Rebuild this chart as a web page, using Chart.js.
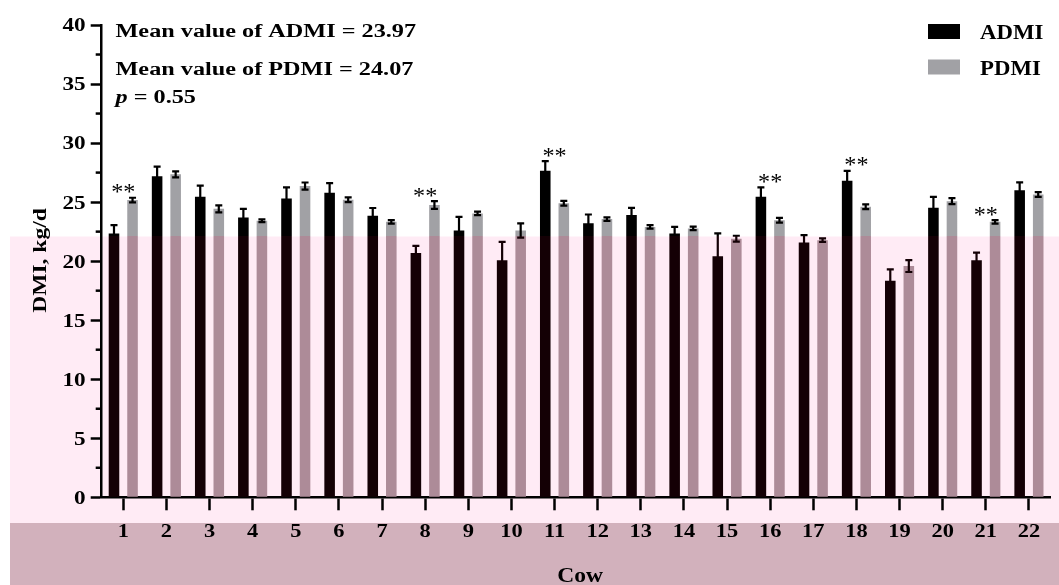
<!DOCTYPE html>
<html>
<head>
<meta charset="utf-8">
<script src="https://cdn.jsdelivr.net/npm/chart.js@4.4.1/dist/chart.umd.min.js"></script>
<style>
  html, body { margin: 0; padding: 0; background: #ffffff; }
  #wrap { width: 1059px; height: 585px; position: relative; }
</style>
</head>
<body>
<div id="wrap"><canvas id="c" width="1059" height="585"></canvas></div>
<script>
// Daily dry matter intake per cow (kg/d): actual (ADMI) vs predicted (PDMI), mean ± SE
const cows = ['1','2','3','4','5','6','7','8','9','10','11','12','13','14','15','16','17','18','19','20','21','22'];
const admi    = [22.35, 27.2, 25.45, 23.7, 25.3, 25.8, 23.84, 20.7, 22.6, 20.08, 27.65, 23.2, 23.9, 22.35, 20.42, 25.45, 21.58, 26.8, 18.33, 24.52, 20.08, 26.0];
const admiErr = [0.7, 0.8, 0.95, 0.73, 0.95, 0.8, 0.66, 0.6, 1.15, 1.56, 0.82, 0.75, 0.62, 0.55, 1.93, 0.8, 0.62, 0.85, 0.97, 0.93, 0.65, 0.67];
const pdmi    = [25.17, 27.35, 24.43, 23.42, 26.36, 25.2, 23.33, 24.75, 24.04, 22.6, 24.9, 23.56, 22.9, 22.77, 21.9, 23.47, 21.78, 24.6, 19.58, 25.08, 23.33, 25.65];
const pdmiErr = [0.2, 0.25, 0.3, 0.12, 0.3, 0.2, 0.15, 0.33, 0.15, 0.6, 0.2, 0.15, 0.15, 0.15, 0.25, 0.2, 0.15, 0.2, 0.5, 0.25, 0.15, 0.2];
const significant = ['1', '8', '11', '16', '18', '21'];
const yTicks = [0, 5, 10, 15, 20, 25, 30, 35, 40];
const seriesNames = ['ADMI', 'PDMI'];
const notes = ['Mean value of ADMI = 23.97', 'Mean value of PDMI = 24.07', '= 0.55'];
const axisTitles = { x: 'Cow', y: 'DMI, kg/d' };

const FONT = '"Liberation Serif", "Times New Roman", serif';
const PINK_TOP = 236.5, BAND_TOP = 523;

// Draw text with a horizontal stretch factor (wide serif look)
function stretchText(ctx, s, x, y, size, sx, align, weight) {
  ctx.save();
  ctx.font = (weight || 'bold') + ' ' + size + 'px ' + FONT;
  ctx.textAlign = align || 'left';
  ctx.textBaseline = 'alphabetic';
  ctx.fillStyle = '#000';
  ctx.translate(x, y);
  ctx.scale(sx, 1);
  ctx.fillText(s, 0, 0);
  ctx.restore();
}

// Two-tone vertical fill: plain colour above the tinted panel, tinted colour inside it
function splitFill(ctx, above, below) {
  const g = ctx.createLinearGradient(0, 0, 0, 585);
  const t = PINK_TOP / 585;
  g.addColorStop(0, above);
  g.addColorStop(t, above);
  g.addColorStop(t, below);
  g.addColorStop(1, below);
  return g;
}

const canvas = document.getElementById('c');
const ctx0 = canvas.getContext('2d');
const blackFill = splitFill(ctx0, '#000000', '#140005');
const greyFill  = splitFill(ctx0, '#a1a1a5', '#ad8b98');
const errStroke = splitFill(ctx0, '#000000', '#140005');

const backdrop = {
  id: 'backdrop',
  beforeDraw(chart) {
    const c = chart.ctx;
    c.save();
    c.fillStyle = '#ffffff';
    c.fillRect(0, 0, chart.width, chart.height);
    c.fillStyle = '#ffebf5';
    c.fillRect(10, PINK_TOP, chart.width - 10, BAND_TOP - PINK_TOP);
    c.fillStyle = '#d2b1bc';
    c.fillRect(10, BAND_TOP, chart.width - 10, chart.height - BAND_TOP);
    c.restore();
  }
};

const errorBars = {
  id: 'errorBars',
  afterDatasetsDraw(chart) {
    const c = chart.ctx, ys = chart.scales.y;
    const errs = [admiErr, pdmiErr];
    const vals = [admi, pdmi];
    c.save();
    c.strokeStyle = errStroke;
    c.lineWidth = 2.2;
    chart.data.datasets.forEach((ds, di) => {
      chart.getDatasetMeta(di).data.forEach((bar, i) => {
        const top = ys.getPixelForValue(vals[di][i] + errs[di][i]);
        const bot = ys.getPixelForValue(vals[di][i] - errs[di][i]);
        c.beginPath();
        c.moveTo(bar.x, top); c.lineTo(bar.x, bot);
        c.moveTo(bar.x - 3.5, top); c.lineTo(bar.x + 3.5, top);
        c.moveTo(bar.x - 3.5, bot); c.lineTo(bar.x + 3.5, bot);
        c.stroke();
      });
    });
    c.restore();
  }
};

const decorations = {
  id: 'decorations',
  afterDraw(chart) {
    const c = chart.ctx, xs = chart.scales.x, ys = chart.scales.y;
    const area = chart.chartArea;

    // minor y ticks halfway between the labelled ones
    c.save();
    c.strokeStyle = '#000';
    c.lineWidth = 2.5;
    for (let i = 0; i < yTicks.length - 1; i++) {
      const y = ys.getPixelForValue((yTicks[i] + yTicks[i + 1]) / 2);
      c.beginPath(); c.moveTo(area.left - 6, y); c.lineTo(area.left, y); c.stroke();
    }
    c.restore();

    // y tick labels
    yTicks.forEach(v => {
      stretchText(c, String(v), area.left - 16, ys.getPixelForValue(v) + 6.4, 19, 1.22, 'right');
    });
    // x tick labels
    cows.forEach((lab, i) => {
      stretchText(c, lab, xs.getPixelForTick(i), 537, 19.5, 1.15, 'center');
    });

    // axis titles
    stretchText(c, axisTitles.x, (area.left + area.right) / 2 + 4, 581.5, 21, 1.12, 'center');
    c.save();
    c.translate(46, 260.5);
    c.rotate(-Math.PI / 2);
    stretchText(c, axisTitles.y, 0, 0, 19, 1.24, 'center');
    c.restore();

    // significance marks above each flagged cow
    significant.forEach(cow => {
      const i = cows.indexOf(cow);
      const top = Math.max(admi[i] + admiErr[i], pdmi[i] + pdmiErr[i]);
      stretchText(c, '**', xs.getPixelForTick(i), ys.getPixelForValue(top) + 1.5, 23, 1.05, 'center', 'normal');
    });

    // summary statistics
    const NS = 18.5, NX = 1.31;
    stretchText(c, notes[0], 115.5, 36.5, NS, NX, 'left');
    stretchText(c, notes[1], 115.5, 74.5, NS, NX, 'left');
    c.save();
    c.font = 'italic bold ' + NS + 'px ' + FONT;
    const pw = c.measureText('p ').width * NX;
    c.restore();
    stretchText(c, 'p', 115.5, 102.5, NS, NX, 'left', 'italic bold');
    stretchText(c, notes[2], 115.5 + pw, 102.5, NS, NX, 'left');

    // legend
    const swatches = ['#000000', '#a1a1a5'];
    const rows = [24, 59.5];
    seriesNames.forEach((name, k) => {
      c.fillStyle = swatches[k];
      c.fillRect(928, rows[k], 32, 15);
      stretchText(c, name, 980, rows[k] + 15.3, 21.5, 1.06, 'left');
    });
  }
};

new Chart(canvas, {
  type: 'bar',
  data: {
    labels: cows,
    datasets: [
      { label: seriesNames[0], data: admi, backgroundColor: blackFill, borderWidth: 0 },
      { label: seriesNames[1], data: pdmi, backgroundColor: greyFill, borderWidth: 0 }
    ]
  },
  options: {
    responsive: false,
    animation: false,
    devicePixelRatio: 1,
    categoryPercentage: 0.86,
    barPercentage: 0.57,
    layout: { padding: { top: 25, right: 8.5, left: 0, bottom: 0 } },
    plugins: { legend: { display: false }, tooltip: { enabled: false } },
    scales: {
      x: {
        offset: true,
        grid: { display: true, offset: false, drawOnChartArea: false, drawTicks: true, tickLength: 13, tickWidth: 2.5, tickColor: '#000' },
        border: { display: true, color: '#000', width: 2.5 },
        ticks: { display: false },
        afterFit(s) { s.height = 87.7; }
      },
      y: {
        min: 0, max: 40,
        grid: { display: true, drawOnChartArea: false, drawTicks: true, tickLength: 11, tickWidth: 2.5, tickColor: '#000' },
        border: { display: true, color: '#000', width: 2.5 },
        ticks: { display: false, stepSize: 5 },
        afterFit(s) { s.width = 101.7; }
      }
    }
  },
  plugins: [backdrop, errorBars, decorations]
});
</script>
</body>
</html>
